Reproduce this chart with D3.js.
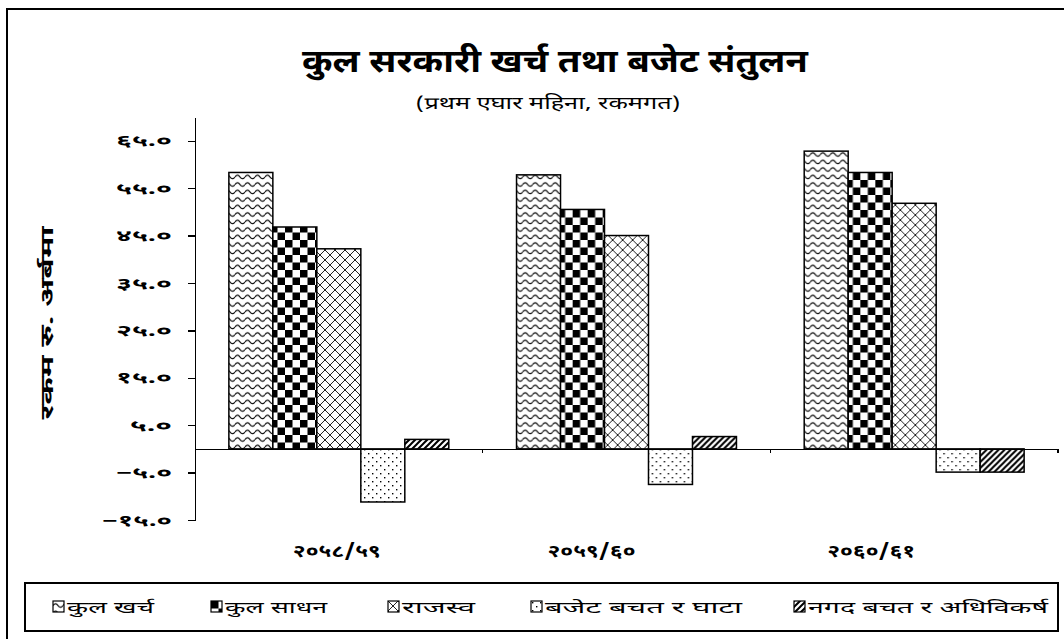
<!DOCTYPE html>
<meta charset="utf-8">
<style>
body {
    margin: 0;
    background: #fff;
}

.chart text {
    font-family: "Noto Sans Devanagari", "Noto Sans", "DejaVu Sans", sans-serif;
    fill: #000;
}

.chart .frame,
.chart .legend-box {
    fill: none;
    stroke: #000;
    stroke-width: 2;
}

.chart .bar {
    stroke: #000;
    stroke-width: 1.5;
}

.chart .axis path,
.chart .axis line {
    stroke: #000;
    stroke-width: 1.3;
    shape-rendering: crispEdges;
}

.chart .axis text {
    font-size: 16px;
    font-weight: bold;
}
</style>
<body>

<svg class="chart js-chart"></svg>

<script src="https://d3js.org/d3.v7.min.js"></script>
<script type="text/javascript">
"use strict";

var categories = ["२०५८/५९", "२०५९/६०", "२०६०/६१"];
var seriesNames = ["कुल खर्च", "कुल साधन", "राजस्व", "बजेट बचत र घाटा", "नगद बचत र अधिविकर्ष"];

// amounts in Rs. billion, first eleven months
var totalExpenditure = [58.3, 57.8, 62.8];
var totalResources = [46.8, 50.5, 58.3];
var revenue = [42.2, 45.0, 51.8];
var budgetBalance = [-11.2, -7.5, -4.9];
var cashBalance = [2.0, 2.6, -4.9];

var yTicks = [-15, -5, 5, 15, 25, 35, 45, 55, 65];

var seriesValues = [totalExpenditure, totalResources, revenue, budgetBalance, cashBalance];
var patternIds = ["p-wave", "p-check", "p-diamond", "p-dots", "p-stripe"];

var width = 1064,
    height = 639,
    plot = { left: 195, right: 1058, top: 117, bottom: 520 };

// the original labels sit a little left of the band centres
var labelShift = [-2, -35, -43];
var legendX = [53, 211, 388, 531, 794];
var legendTextWidth = [87, 102, 73, 197, 240];

var devDigits = "०१२३४५६७८९";
function toDevanagari(str) {
    return str.replace(/[0-9]/g, function(d) { return devDigits[+d]; });
}

var svg = d3.select(".js-chart")
    .attr("width", width)
    .attr("height", height);

// fill patterns
var defs = svg.append("defs");

var wave = defs.append("pattern").attr("id", "p-wave")
    .attr("patternUnits", "userSpaceOnUse").attr("width", 10).attr("height", 7.5);
wave.append("rect").attr("width", 10).attr("height", 7.5).attr("fill", "#fff");
wave.append("path").attr("d", "M0,4.5 Q2.5,1 5,4.5 T10,4.5")
    .attr("fill", "none").attr("stroke", "#000").attr("stroke-width", 1.1);

var check = defs.append("pattern").attr("id", "p-check")
    .attr("patternUnits", "userSpaceOnUse").attr("width", 15).attr("height", 15);
check.append("rect").attr("width", 15).attr("height", 15).attr("fill", "#fff");
check.append("rect").attr("width", 7.5).attr("height", 7.5).attr("fill", "#000");
check.append("rect").attr("x", 7.5).attr("y", 7.5).attr("width", 7.5).attr("height", 7.5).attr("fill", "#000");

var diamond = defs.append("pattern").attr("id", "p-diamond")
    .attr("patternUnits", "userSpaceOnUse").attr("width", 10).attr("height", 10);
diamond.append("rect").attr("width", 10).attr("height", 10).attr("fill", "#fff");
diamond.append("path").attr("d", "M0,0 L10,10 M10,0 L0,10")
    .attr("stroke", "#222").attr("stroke-width", 1);

var dots = defs.append("pattern").attr("id", "p-dots")
    .attr("patternUnits", "userSpaceOnUse").attr("width", 8).attr("height", 8);
dots.append("rect").attr("width", 8).attr("height", 8).attr("fill", "#fff");
dots.append("rect").attr("x", 1).attr("y", 1).attr("width", 1.4).attr("height", 1.4).attr("fill", "#000");
dots.append("rect").attr("x", 5).attr("y", 5).attr("width", 1.4).attr("height", 1.4).attr("fill", "#000");

var stripe = defs.append("pattern").attr("id", "p-stripe")
    .attr("patternUnits", "userSpaceOnUse").attr("width", 6).attr("height", 6);
stripe.append("rect").attr("width", 6).attr("height", 6).attr("fill", "#fff");
stripe.append("path").attr("d", "M-1,1 L1,-1 M0,6 L6,0 M5,7 L7,5")
    .attr("stroke", "#000").attr("stroke-width", 2);

// outer frame (runs off the right and bottom of the picture)
svg.append("rect")
    .attr("class", "frame")
    .attr("x", 7)
    .attr("y", 9)
    .attr("width", width + 20)
    .attr("height", height + 20);

// titles
svg.append("text")
    .attr("x", 555)
    .attr("y", 72)
    .attr("text-anchor", "middle")
    .attr("font-size", 32)
    .attr("font-weight", "bold")
    .attr("textLength", 506)
    .attr("lengthAdjust", "spacingAndGlyphs")
    .text("कुल सरकारी खर्च तथा बजेट संतुलन");

svg.append("text")
    .attr("x", 548)
    .attr("y", 109)
    .attr("text-anchor", "middle")
    .attr("font-size", 17)
    .attr("textLength", 265)
    .attr("lengthAdjust", "spacingAndGlyphs")
    .text("(प्रथम एघार महिना, रकमगत)");

// scales
var y = d3.scaleLinear()
    .domain([-15, 70])
    .range([plot.bottom, plot.top]);

var x0 = d3.scaleBand()
    .domain(categories)
    .range([plot.left, plot.right]);

var x1 = d3.scaleBand()
    .domain(seriesNames)
    .range([0, x0.bandwidth()])
    .paddingOuter(0.77);

// y axis
var yAxis = d3.axisLeft(y)
    .tickValues(yTicks)
    .tickSize(7)
    .tickPadding(16)
    .tickSizeOuter(0)
    .tickFormat(function(d) { return toDevanagari(d3.format(".1f")(d)); });

var yAxisG = svg.append("g")
    .attr("class", "axis y-axis")
    .attr("transform", "translate(" + plot.left + ",0)")
    .call(yAxis);

yAxisG.selectAll(".tick text")
    .attr("textLength", function(d) { return this.textContent.length * 14; })
    .attr("lengthAdjust", "spacingAndGlyphs");

svg.append("text")
    .attr("transform", "translate(53,323) rotate(-90)")
    .attr("text-anchor", "middle")
    .attr("font-size", 18)
    .attr("font-weight", "bold")
    .attr("textLength", 193)
    .attr("lengthAdjust", "spacingAndGlyphs")
    .text("रकम रु. अर्बमा");

// bars
var groups = svg.append("g")
    .selectAll("g")
    .data(categories)
    .join("g")
    .attr("transform", function(d) { return "translate(" + x0(d) + ",0)"; });

groups.selectAll("rect")
    .data(function(d, i) {
        return seriesNames.map(function(name, j) {
            return { name: name, value: seriesValues[j][i], pattern: patternIds[j] };
        });
    })
    .join("rect")
    .attr("class", "bar")
    .attr("x", function(d) { return x1(d.name); })
    .attr("width", x1.bandwidth())
    .attr("y", function(d) { return y(Math.max(0, d.value)); })
    .attr("height", function(d) { return Math.abs(y(d.value) - y(0)); })
    .attr("fill", function(d) { return "url(#" + d.pattern + ")"; });

// category axis on the zero line
var xAxis = d3.axisBottom(x0)
    .tickValues([])
    .tickSizeOuter(0);

var xAxisG = svg.append("g")
    .attr("class", "axis x-axis")
    .attr("transform", "translate(0," + y(0) + ")")
    .call(xAxis);

xAxisG.selectAll(".boundary")
    .data(categories)
    .join("line")
    .attr("class", "boundary")
    .attr("x1", function(d) { return x0(d) + x0.bandwidth(); })
    .attr("x2", function(d) { return x0(d) + x0.bandwidth(); })
    .attr("y1", 0)
    .attr("y2", 4);

svg.append("g")
    .selectAll("text")
    .data(categories)
    .join("text")
    .attr("x", function(d, i) { return x0(d) + x0.bandwidth() / 2 + labelShift[i]; })
    .attr("y", 557)
    .attr("text-anchor", "middle")
    .attr("font-size", 17)
    .attr("font-weight", "bold")
    .attr("textLength", 88)
    .attr("lengthAdjust", "spacingAndGlyphs")
    .text(function(d) { return d; });

// legend
svg.append("rect")
    .attr("class", "legend-box")
    .attr("x", 25)
    .attr("y", 583)
    .attr("width", 1033)
    .attr("height", 48);

var legend = svg.append("g")
    .selectAll("g")
    .data(seriesNames)
    .join("g")
    .attr("transform", function(d, i) { return "translate(" + legendX[i] + ",601)"; });

legend.append("rect")
    .attr("width", 11)
    .attr("height", 11)
    .attr("fill", function(d, i) { return "url(#" + patternIds[i] + ")"; })
    .attr("stroke", "#000")
    .attr("stroke-width", 1.2);

legend.append("text")
    .attr("x", 14)
    .attr("y", 12)
    .attr("font-size", 16)
    .attr("textLength", function(d, i) { return legendTextWidth[i]; })
    .attr("lengthAdjust", "spacingAndGlyphs")
    .text(function(d) { return d; });

</script>
</body>
